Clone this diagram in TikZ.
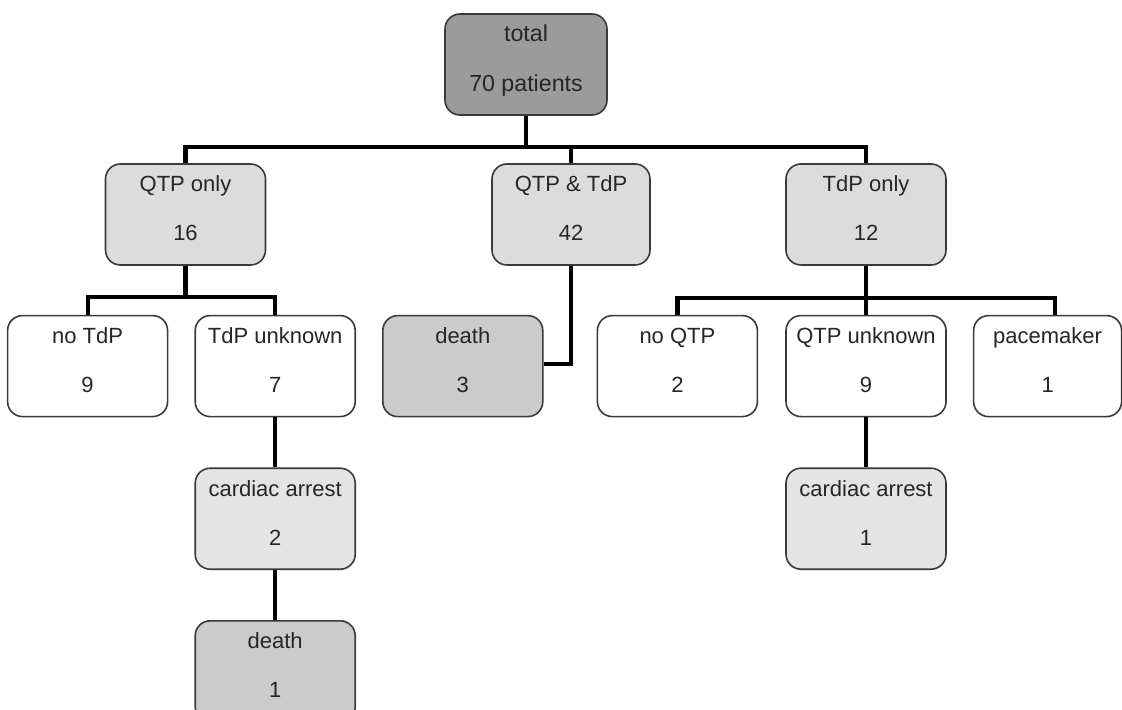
\documentclass[tikz,border=0pt]{standalone}
\usepackage{fontspec}
\setmainfont{Liberation Sans}
\usetikzlibrary{positioning}
\definecolor{fcdark}{HTML}{9B9B9B}
\definecolor{fcmid}{HTML}{CBCBCB}
\definecolor{fclight}{HTML}{DCDCDC}
\definecolor{fcpale}{HTML}{E4E4E4}
\definecolor{fcedge}{HTML}{3A3A3A}
\tikzset{
  box/.style={draw=fcedge,line width=0.8pt,fill=white,rounded corners=7.5pt,align=center,
              minimum width=80pt,minimum height=50.5pt,inner sep=0pt,text depth=6pt,
              font=\fontsize{11pt}{24.5pt}\selectfont,text=black!85},
  tot/.style={box,fill=fcdark,minimum width=81pt,font=\fontsize{11.6pt}{25pt}\selectfont},
  grp/.style={box,fill=fclight},
  ev/.style={box,fill=fcpale},
  dth/.style={box,fill=fcmid},
  ln/.style={line width=2.1pt,black},
}

\begin{document}
\begin{tikzpicture}[x=0.5pt,y=-0.5pt]
      \useasboundingbox (0,0) rectangle (1122,710);
      % first two levels
      \node[tot] (total) at (526,64.5) {total\\70 patients};
      \node[grp] (qtp) at (185.5,214.5) {QTP only\\16};
      \node[grp,minimum width=79pt] (both) at (571,214.5) {QTP \& TdP\\42};
      \node[grp] (tdp) at (866,214.5) {TdP only\\12};
      % outcomes
      \node[box,below=24.5pt of tdp] (qtpunk) {QTP unknown\\9};
      \node[box,left=13.5pt of qtpunk] (noqtp) {no QTP\\2};
      \node[box,right=13pt of qtpunk,minimum width=74pt] (pace) {pacemaker\\1};
      \node[dth,left=26.5pt of noqtp] (death1) {death\\3};
      \node[box,left=13pt of death1] (tdpunk) {TdP unknown\\7};
      \node[box,left=13pt of tdpunk] (notdp) {no TdP\\9};
      \node[ev,below=25pt of tdpunk] (ca1) {cardiac arrest\\2};
      \node[dth,below=25pt of ca1] (death2) {death\\1};
      \node[ev,below=25pt of qtpunk] (ca2) {cardiac arrest\\1};
      % connectors
      \coordinate (bus0) at (526,147);
      \coordinate (bus1) at (185.5,297);
      \coordinate (bus2) at (866,298);
      \draw[ln] (total) -- (bus0);
      \draw[ln] (qtp.north) |- (bus0) -| (tdp.north);
      \draw[ln] (both.north) -- (both.north |- bus0);
      \draw[ln] (qtp.south) -- (bus1);
      \draw[ln] (notdp.north) |- (bus1) -| (tdpunk.north);
      \draw[ln] (both.south) |- ([yshift=1pt]death1.east);
      \draw[ln] (tdp.south) -- (qtpunk.north);
      \draw[ln] (noqtp.north) |- (bus2) -| ([xshift=3.5pt]pace.north);
      \draw[ln] (tdpunk) -- (ca1);
      \draw[ln] (ca1) -- (death2);
      \draw[ln] (qtpunk) -- (ca2);
\end{tikzpicture}
\end{document}
